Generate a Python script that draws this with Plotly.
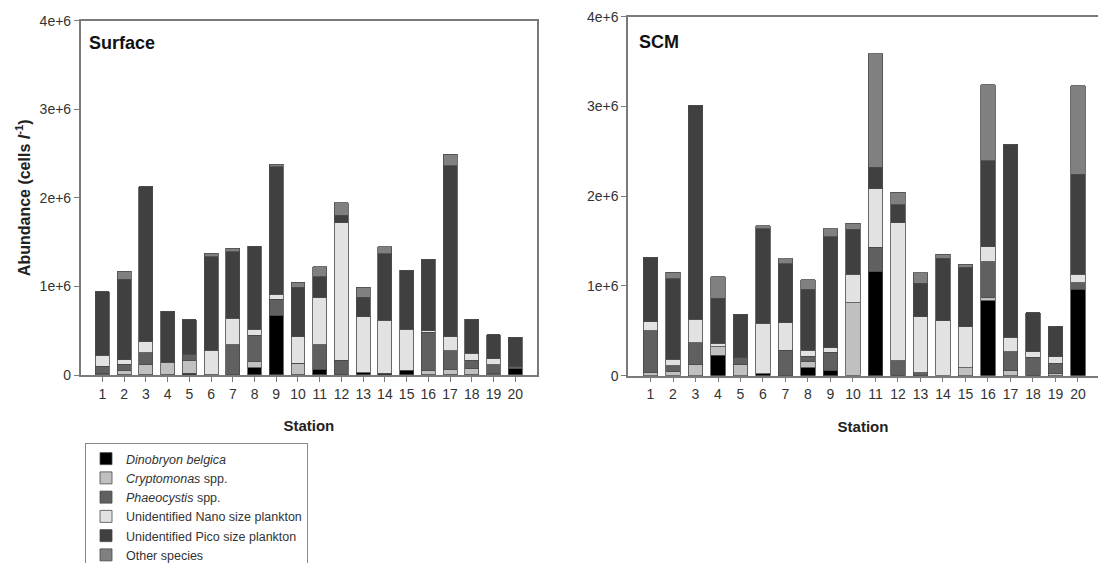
import plotly.graph_objects as go

stations = list(range(1, 21))
series_names = ["<i>Dinobryon belgica</i>", "<i>Cryptomonas</i> spp.", "<i>Phaeocystis</i> spp.",
                "Unidentified Nano size plankton", "Unidentified Pico size plankton", "Other species"]
colors = ["#000000", "#c0c0c0", "#606060", "#e2e2e2", "#404040", "#808080"]

# Surface (millions of cells per litre)
dino_s = [0, 0, 0, 0, 0.019, 0, 0, 0.083, 0.677, 0, 0.064, 0, 0.025, 0.019, 0.056, 0, 0, 0, 0, 0.068]
crypto_s = [0.02, 0.056, 0.124, 0.139, 0.15, 0, 0, 0.068, 0, 0.132, 0, 0, 0, 0, 0, 0.056, 0.064, 0.068, 0.019, 0]
phaeo_s = [0.08, 0.064, 0.128, 0, 0.068, 0, 0.339, 0.30, 0.18, 0, 0.275, 0.169, 0, 0, 0, 0.425, 0.21, 0.10, 0.094, 0.026]
nano_s = [0.125, 0.05, 0.124, 0, 0, 0.282, 0.30, 0.068, 0.053, 0.30, 0.534, 1.55, 0.632, 0.60, 0.459, 0.019, 0.158, 0.075, 0.068, 0]
pico_s = [0.715, 0.91, 1.75, 0.583, 0.384, 1.053, 0.752, 0.937, 1.44, 0.557, 0.237, 0.087, 0.218, 0.752, 0.67, 0.809, 1.93, 0.388, 0.271, 0.331]
other_s = [0, 0.094, 0, 0, 0, 0.038, 0.038, 0, 0.03, 0.056, 0.113, 0.139, 0.113, 0.075, 0, 0, 0.128, 0, 0, 0]

# SCM (millions of cells per litre)
dino_c = [0, 0, 0, 0.23, 0, 0.019, 0, 0.089, 0.056, 0, 1.16, 0, 0, 0, 0, 0.833, 0, 0, 0, 0.963]
crypto_c = [0.033, 0.045, 0.126, 0.093, 0.126, 0, 0, 0.074, 0, 0.814, 0, 0, 0, 0, 0.089, 0.041, 0.063, 0, 0.026, 0]
phaeo_c = [0.465, 0.067, 0.242, 0, 0.074, 0, 0.286, 0.056, 0.204, 0, 0.271, 0.164, 0.033, 0, 0, 0.398, 0.204, 0.204, 0.112, 0.074]
nano_c = [0.104, 0.074, 0.26, 0.037, 0, 0.565, 0.305, 0.067, 0.052, 0.316, 0.651, 1.543, 0.625, 0.61, 0.457, 0.167, 0.16, 0.063, 0.074, 0.093]
pico_c = [0.714, 0.892, 2.383, 0.502, 0.483, 1.052, 0.654, 0.677, 1.238, 0.502, 0.238, 0.197, 0.372, 0.699, 0.662, 0.955, 2.145, 0.435, 0.335, 1.115]
other_c = [0, 0.074, 0, 0.242, 0, 0.037, 0.056, 0.104, 0.085, 0.067, 1.268, 0.138, 0.119, 0.045, 0.033, 0.848, 0, 0, 0, 0.985]

ytick_vals = [0, 1e6, 2e6, 3e6, 4e6]
ytick_text = ["0", "1e+6", "2e+6", "3e+6", "4e+6"]

surface = [dino_s, crypto_s, phaeo_s, nano_s, pico_s, other_s]
scm = [dino_c, crypto_c, phaeo_c, nano_c, pico_c, other_c]

W, H = 1098, 563
fig = go.Figure()
for i, name in enumerate(series_names):
    fig.add_trace(go.Bar(x=stations, y=[v * 1e6 for v in surface[i]], name=name,
                         marker=dict(color=colors[i], line=dict(color="#4a4a4a", width=0.8)),
                         width=0.64, xaxis="x", yaxis="y", legendgroup=str(i), showlegend=True))
for i, name in enumerate(series_names):
    fig.add_trace(go.Bar(x=stations, y=[v * 1e6 for v in scm[i]], name=name,
                         marker=dict(color=colors[i], line=dict(color="#4a4a4a", width=0.8)),
                         width=0.64, xaxis="x2", yaxis="y2", legendgroup=str(i), showlegend=False))

axis_common = dict(showline=True, linecolor="#7a7a7a", linewidth=1.5, ticks="outside",
                   ticklen=5, tickcolor="#7a7a7a", showgrid=False, zeroline=False,
                   automargin=False,
                   tickfont=dict(family="Liberation Sans, Arial", size=14, color="#333333"))

fig.update_layout(
    width=W, height=H, margin=dict(l=0, r=0, t=0, b=0, autoexpand=False),
    paper_bgcolor="white", plot_bgcolor="white",
    barmode="stack", bargap=0.36,
    font=dict(family="Liberation Sans, Arial", color="#333333"),
    xaxis=dict(domain=[80.7 / W, 537 / W], range=[0, 21], tickvals=stations, mirror=True,
               title=dict(text="<b>Station</b>", font=dict(size=15, color="#222222"), standoff=20),
               anchor="y", **axis_common),
    yaxis=dict(domain=[1 - 375 / H, 1 - 20.7 / H], range=[0, 4e6], tickvals=ytick_vals,
               ticktext=ytick_text, mirror=True, anchor="x",
               title=dict(text="<b>Abundance (cells <i>l</i><sup>-1</sup>)</b>",
                          font=dict(size=16, color="#222222"), standoff=5),
               **axis_common),
    xaxis2=dict(domain=[628 / W, 1.0], range=[0, 20.89], tickvals=stations, mirror=True,
                title=dict(text="<b>Station</b>", font=dict(size=15, color="#222222"), standoff=20),
                anchor="y2", **axis_common),
    yaxis2=dict(domain=[1 - 375.7 / H, 1 - 16.7 / H], range=[0, 4e6], tickvals=ytick_vals,
                ticktext=ytick_text, mirror=False, anchor="x2", **axis_common),
    legend=dict(x=85 / W, y=1 - 443 / H, xanchor="left", yanchor="top", traceorder="normal",
                bordercolor="#8a8a8a", borderwidth=1, bgcolor="white",
                font=dict(family="Liberation Sans, Arial", size=12.5, color="#333333")),
    annotations=[
        dict(text="<b>Surface</b>", xref="paper", yref="paper", x=87 / W, y=1 - 43 / H,
             xanchor="left", yanchor="middle", showarrow=False,
             font=dict(size=18, color="#111111")),
        dict(text="<b>SCM</b>", xref="paper", yref="paper", x=637 / W, y=1 - 42 / H,
             xanchor="left", yanchor="middle", showarrow=False,
             font=dict(size=18, color="#111111")),
    ],
)

fig.write_html("out.html")
